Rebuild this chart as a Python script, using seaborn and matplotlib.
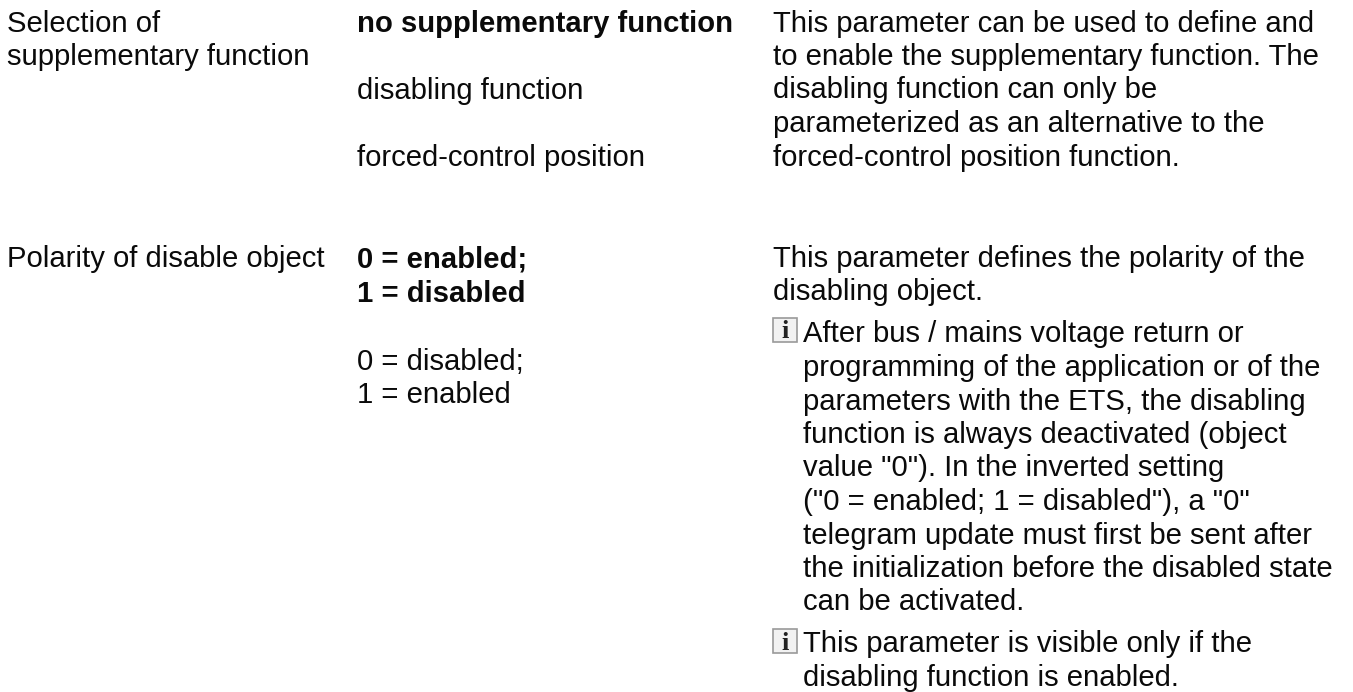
import matplotlib
matplotlib.use("Agg")
import matplotlib.pyplot as plt
import seaborn as sns
from matplotlib.patches import Rectangle

sns.set_style("white")
plt.rcParams["font.family"] = ["Liberation Sans", "DejaVu Sans"]

# Text of the parameter table
param_names = ["Selection of", "supplementary function", "Polarity of disable object"]
options_bold = ["no supplementary function", "0 = enabled;", "1 = disabled"]
options_plain = ["disabling function", "forced-control position", "0 = disabled;", "1 = enabled"]
desc_first = ["This parameter can be used to define and",
              "to enable the supplementary function. The",
              "disabling function can only be",
              "parameterized as an alternative to the",
              "forced-control position function."]
desc_second = ["This parameter defines the polarity of the", "disabling object."]
note_first = ["After bus / mains voltage return or",
              "programming of the application or of the",
              "parameters with the ETS, the disabling",
              "function is always deactivated (object",
              "value \"0\"). In the inverted setting",
              "(\"0 = enabled; 1 = disabled\"), a \"0\"",
              "telegram update must first be sent after",
              "the initialization before the disabled state",
              "can be activated."]
note_second = ["This parameter is visible only if the", "disabling function is enabled."]

# Layout in pixels
FS = 21.1
INK = "#0a0a0a"
STEP = 33.5
X_NAME, X_OPTION, X_DESC, X_NOTE = 7, 357, 773, 803

fig, ax = plt.subplots(figsize=(13.53, 6.92), dpi=100)
fig.subplots_adjust(0, 0, 1, 1)
ax.set_xlim(0, 1353)
ax.set_ylim(692, 0)
ax.axis("off")


def put(x, y, s, **kw):
    ax.text(x, y, s, fontsize=FS, color=INK, va="baseline", **kw)


def put_block(x, y, lines):
    for i, s in enumerate(lines):
        put(x, y + i * STEP, s)


def info_icon(x, bottom):
    ax.add_patch(Rectangle((x, bottom - 24), 24, 24, facecolor="#f2f2f2", edgecolor="#9a9a9a", linewidth=1.2))
    ax.text(x + 12, bottom - 3.5, "i", fontsize=19, fontweight="bold", color="#222222",
            family="Liberation Serif", ha="center", va="baseline")


# Left column
put_block(X_NAME, 31.5, param_names[:2])
put(X_NAME, 267, param_names[2])

# Middle column
put(X_OPTION, 31.5, options_bold[0], fontweight="bold")
put(X_OPTION, 99, options_plain[0])
put(X_OPTION, 166, options_plain[1])
put(X_OPTION, 267, options_bold[1], fontweight="bold")
put(X_OPTION, 301.5, options_bold[2], fontweight="bold")
put(X_OPTION, 370, options_plain[2])
put(X_OPTION, 403, options_plain[3])

# Right column
put_block(X_DESC, 31.5, desc_first)
put_block(X_DESC, 267, desc_second)
put_block(X_NOTE, 342.5, note_first)
put_block(X_NOTE, 652, note_second)
info_icon(773, 342)
info_icon(773, 653)

fig.savefig("out.png", dpi=100)
